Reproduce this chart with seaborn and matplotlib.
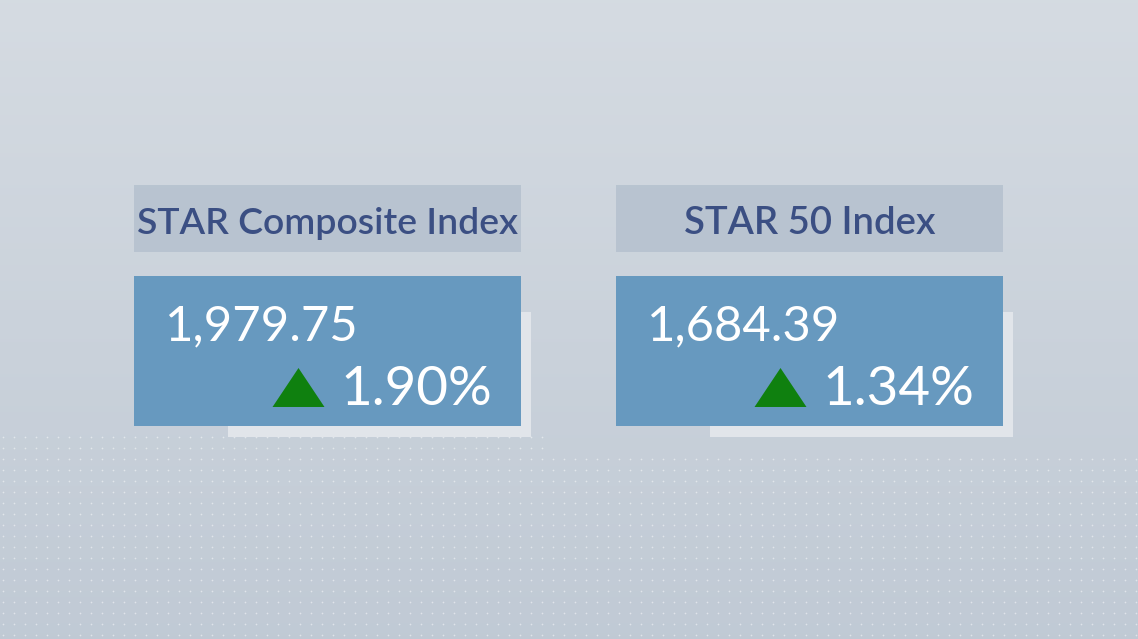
import numpy as np
import pandas as pd
import matplotlib.pyplot as plt
import seaborn as sns
from matplotlib.patches import Rectangle
from matplotlib.path import Path

# Index data
index_names = ["STAR Composite Index", "STAR 50 Index"]
index_values = [1979.75, 1684.39]
pct_changes = [1.90, 1.34]

W, H = 1138, 639
sns.set_theme(style="white")
plt.rcParams['font.family'] = ['Lato', 'DejaVu Sans']

fig = plt.figure(figsize=(W / 100, H / 100), dpi=100)
ax = fig.add_axes([0, 0, 1, 1])
ax.set_xlim(0, W)
ax.set_ylim(H, 0)
ax.axis('off')

# Background gradient (top lighter, bottom slightly bluer)
top = np.array([0.835, 0.859, 0.886])
bot = np.array([0.755, 0.792, 0.835])
t = np.linspace(0, 1, 200)[:, None, None]
grad = top * (1 - t) + bot * t
grad = np.repeat(grad, 2, axis=1)
ax.imshow(grad, extent=[0, W, H, 0], aspect='auto', zorder=0)

# Dotted texture in the lower part
gx, gy = np.meshgrid(np.arange(3, W, 11), np.arange(437, H, 11))
gx, gy = gx.ravel(), gy.ravel()
keep = (gx < 545) | (gy >= 455)
gx, gy = gx[keep], gy[keep]
ax.scatter(gx, gy, s=1.5, color='white', alpha=0.5, linewidths=0, zorder=1)

renderer = fig.canvas.get_renderer()


def fit_text(x, y, s, width, **kw):
    txt = ax.text(x, y, s, fontsize=30, **kw)
    w = txt.get_window_extent(renderer).width
    txt.set_fontsize(30 * width / w)
    return txt


card_x = [134, 616]
card_w = 387
up_marker = Path([(-1, -0.75), (1, -0.75), (0, 0.75), (-1, -0.75)],
                 [Path.MOVETO, Path.LINETO, Path.LINETO, Path.CLOSEPOLY])

tri_rows = []
for i, name in enumerate(index_names):
    x0 = card_x[i]
    # title strip
    ax.add_patch(Rectangle((x0, 185), card_w, 67, color='#b6c2cf', alpha=0.9, lw=0, zorder=2))
    # shadow panel
    ax.add_patch(Rectangle((x0 + 94, 312), 303, 125, color='#e1e5ea', lw=0, zorder=2))
    # value card
    ax.add_patch(Rectangle((x0, 276), card_w, 150, color='#6799bf', lw=0, zorder=3))

    title_w = 381 if i == 0 else 251
    fit_text(x0 + card_w / 2, 234, name, title_w, ha='center', va='baseline',
             color='#3b4f83', fontweight='semibold', zorder=4)
    fit_text(x0 + 31, 340, f"{index_values[i]:,.2f}", 193, ha='left', va='baseline',
             color='white', zorder=4)
    pct = fit_text(x0 + 358, 405, f"{pct_changes[i]:.2f}%", 152, ha='right', va='baseline',
                   color='white', zorder=4)
    left_px = pct.get_window_extent(renderer).x0
    left_data = ax.transData.inverted().transform((left_px, 0))[0]
    tri_rows.append({'x': left_data - 42, 'y': 386.5, 'dir': 'up' if pct_changes[i] > 0 else 'down'})

tri = pd.DataFrame(tri_rows)
sns.scatterplot(data=tri, x='x', y='y', marker=up_marker, s=1400, color='#0f800f',
                linewidth=0, ax=ax, zorder=5, legend=False)
ax.set_xlim(0, W)
ax.set_ylim(H, 0)
ax.axis('off')

fig.savefig('out.png', dpi=100)
